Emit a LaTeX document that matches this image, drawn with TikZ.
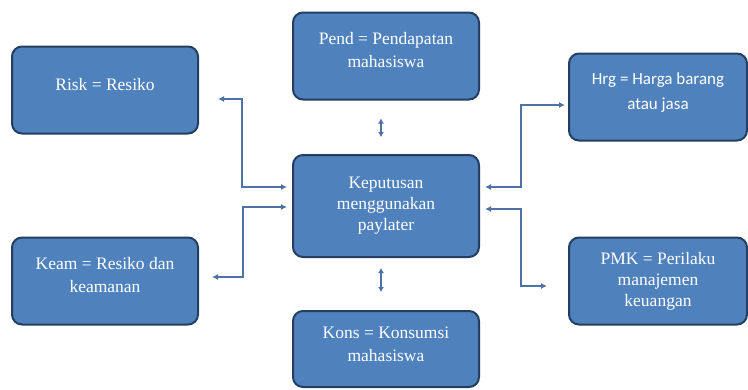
\documentclass[tikz,border=0pt]{standalone}
\usepackage{fontspec}
\setmainfont{Liberation Serif}
\newfontfamily\timeslike{Liberation Serif}
\newfontfamily\calibrilike{Carlito}
\usetikzlibrary{arrows.meta}
\definecolor{boxblue}{HTML}{4F81BD}
\definecolor{boxline}{HTML}{223F63}
\definecolor{linkblue}{HTML}{4E72A8}

\begin{document}
\begin{tikzpicture}[
	x=1pt,
	y=-1pt,
	box/.style={
		draw=boxline,
		fill=boxblue,
		line width=2pt,
		rounded corners=10pt,
		text=white,
		align=center,
		inner sep=0pt,
		minimum width=186pt,
		minimum height=87pt,
		font=\timeslike\fontsize{17.5}{23}\selectfont,
	},
	link/.style={
		{Latex[length=6pt,width=6pt]}-{Latex[length=6pt,width=6pt]},
		draw=linkblue,
		line width=1.4pt,
	},
	shortlink/.style={
		{Latex[length=5pt,width=6pt]}-{Latex[length=5pt,width=6pt]},
		draw=linkblue,
		line width=1.6pt,
	}
]
\useasboundingbox (0,0) rectangle (748,389);

% boxes
\node[box] (Risk) at (105,90) {Risk = Resiko\\[-11pt]};
\node[box] (Pend) at (386,56) {Pend = Pendapatan\\mahasiswa\\[-11pt]};
\node[box, minimum width=178pt, font=\calibrilike\fontsize{17}{25}\selectfont] (Hrg) at (658,97) {Hrg = Harga barang\\atau jasa\\[-13pt]};
\node[box, minimum height=102pt, font=\timeslike\fontsize{17.5}{21}\selectfont] (Kep) at (386,206) {Keputusan\\menggunakan\\paylater};
\node[box] (Keam) at (105,281) {Keam = Resiko dan\\keamanan\\[-11pt]};
\node[box, minimum height=76pt] (Kons) at (386,349) {Kons = Konsumsi\\mahasiswa\\[-13pt]};
\node[box, minimum width=178pt, font=\timeslike\fontsize{17.5}{21}\selectfont] (PMK) at (658,281) {PMK = Perilaku\\manajemen\\keuangan};

% free ends
\coordinate (rk) at (218,99);
\coordinate (km) at (212,277);
\coordinate (pm) at (547,286);

% connectors
\draw[link, shorten >=5pt] (rk) -- ++(24,0) |- ([yshift=19pt]Kep.west);
\draw[link, shorten >=5pt] (km) -- ++(31,0) |- ([yshift=-1pt]Kep.west);
\draw[link, shorten <=5pt, shorten >=3pt] ([yshift=19pt]Kep.east) -- ++(41,0) |- ([yshift=-8pt]Hrg.west);
\draw[link, shorten <=5pt] ([yshift=-3pt]Kep.east) -- ++(41,0) |- (pm);
\draw[shortlink] ([xshift=-5pt,yshift=-18pt]Pend.south) -- ([xshift=-5pt,yshift=17pt]Kep.north);
\draw[shortlink] ([xshift=-5pt,yshift=-10pt]Kep.south) -- ([xshift=-5pt,yshift=18pt]Kons.north);
\end{tikzpicture}
\end{document}
